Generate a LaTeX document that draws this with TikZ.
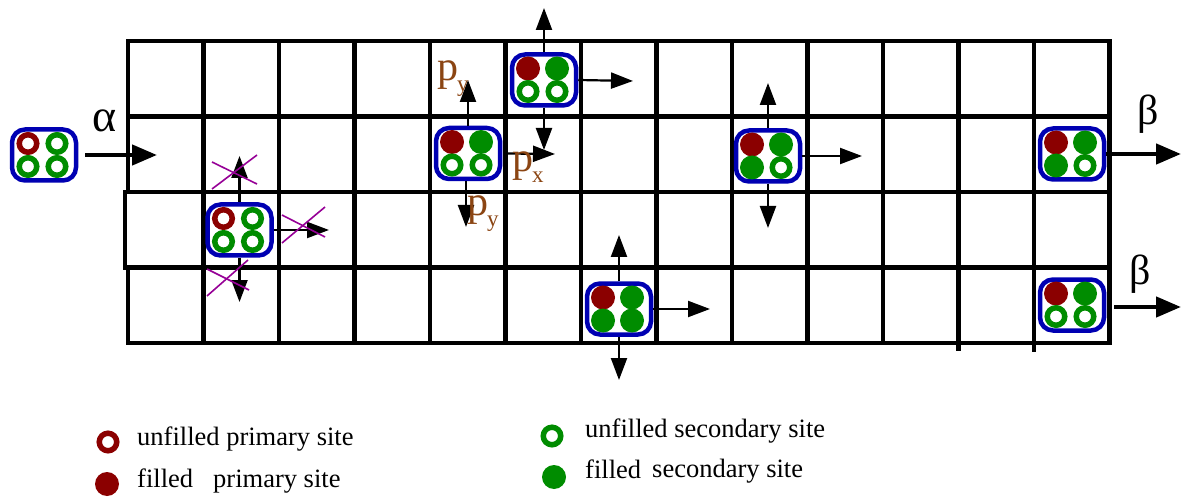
\documentclass[tikz,border=0pt]{standalone}
\usepackage{fontspec}
\setmainfont{Liberation Serif}
\usetikzlibrary{arrows.meta}
\definecolor{dred}{RGB}{139,0,0}
\definecolor{sgreen}{RGB}{0,140,0}
\definecolor{sblue}{RGB}{0,0,178}
\definecolor{pbrown}{RGB}{139,69,19}
\definecolor{xpurple}{RGB}{150,0,150}
\tikzset{
 gridline/.style={line width=4.5pt, line cap=rect},
 sitebox/.style={draw=sblue, line width=4.5pt, rounded corners=13pt, minimum width=64pt, minimum height=51pt, fill=white, inner sep=0pt},
 fr/.style={circle, fill=dred, minimum size=24pt, inner sep=0pt},
 fg/.style={circle, fill=sgreen, minimum size=24pt, inner sep=0pt},
 ur/.style={circle, draw=dred, fill=white, line width=5.5pt, minimum size=17.5pt, inner sep=0pt},
 ug/.style={circle, draw=sgreen, fill=white, line width=5.5pt, minimum size=17.5pt, inner sep=0pt},
 hop/.style={line width=2.2pt, -{Triangle[length=22pt,width=16pt]}},
 flow/.style={line width=4.5pt, -{Triangle[length=25pt,width=20pt]}},
 cross/.style={draw=xpurple, line width=1.6pt},
 plabel/.style={text=pbrown, inner sep=0pt, anchor=base west},
 greek/.style={inner sep=0pt, font=\fontsize{46}{46}\selectfont},
 legend/.style={anchor=base west, inner sep=0pt, font=\fontsize{26.5}{30}\selectfont},
}
\newcommand\cellbox[6]{%
 \node[sitebox] (#1) at (#2) {};
 \node[#3, xshift=-16pt, yshift=11.5pt] (#1-tl) at (#1) {};
 \node[#4, xshift=13pt, yshift=11.5pt] (#1-tr) at (#1) {};
 \node[#5, xshift=-16pt, yshift=-11.5pt] (#1-bl) at (#1) {};
 \node[#6, xshift=13pt, yshift=-11.5pt] (#1-br) at (#1) {};
}
\newcommand\plab[1]{{\fontsize{42}{42}\selectfont p}\kern-1pt\raisebox{-11pt}{\fontsize{23}{23}\selectfont #1}}
\begin{document}
\begin{tikzpicture}[x=1pt, y=-1pt]
\useasboundingbox (0,0) rectangle (1181,497);
% grid
\foreach \i in {1,...,13} \draw[gridline] ({128+75.5*\i},41) -- ({128+75.5*\i},343);
\draw[gridline] (128,41) -- (128,192);
\draw[gridline] (125,192) -- (125,267.5);
\draw[gridline] (128,267.5) -- (128,343);
\foreach \j in {0,1,4} \draw[gridline] (128,{41+75.5*\j}) -- (1110,{41+75.5*\j});
\foreach \j in {2,3} \draw[gridline] (125,{41+75.5*\j}) -- (1110,{41+75.5*\j});
\draw[gridline] (958.5,343) -- (958.5,349);
\draw[gridline] (1034,343) -- (1034,350);
% site boxes
\cellbox{b1}{44,155}{ur}{ug}{ug}{ug}
\cellbox{b2}{239.5,230}{ur}{ug}{ug}{ug}
\cellbox{b3}{468,153.5}{fr}{fg}{ug}{ug}
\cellbox{b4}{544,80}{fr}{fg}{ug}{ug}
\cellbox{b5}{619,309}{fr}{fg}{fg}{fg}
\cellbox{b6}{768,156}{fr}{fg}{fg}{ug}
\cellbox{b7}{1072,154}{fr}{fg}{fg}{ug}
\cellbox{b8}{1072,305}{fr}{fg}{ug}{ug}
% arrow end points
\coordinate (aend) at (157,155);
\coordinate (b2u) at (239.5,156);
\coordinate (b2r) at (329,230);
\coordinate (b2d) at (239.5,302);
\coordinate (b3u) at (468,80);
\coordinate (b3r) at (555,154);
\coordinate (b3d) at (466,227);
\coordinate (b4u) at (544,8);
\coordinate (b4r) at (633,81);
\coordinate (b4d) at (544,150);
\coordinate (b5u) at (619,235);
\coordinate (b5r) at (710,309);
\coordinate (b5d) at (619,380);
\coordinate (b6u) at (768,83);
\coordinate (b6r) at (862,156);
\coordinate (b6d) at (768,228);
\coordinate (b7r) at (1181,154);
\coordinate (b8r) at (1181,307);
% arrows
\draw[flow] ([xshift=7pt]b1.east) -- (aend);
\draw[hop] (b2.north) -- (b2u);
\draw[hop] (b2.east) -- (b2r);
\draw[hop] (b2.south) -- (b2d);
\draw[hop] (b3.north) -- (b3u);
\draw[hop] ([xshift=4pt]b3.east) -- (b3r);
\draw[hop] ([xshift=-2pt]b3.south) -- (b3d);
\draw[hop] (b4.north) -- (b4u);
\draw[hop] (b4.east) -- (b4r);
\draw[hop] (b4.south) -- (b4d);
\draw[hop] (b5.north) -- (b5u);
\draw[hop] (b5.east) -- (b5r);
\draw[hop] (b5.south) -- (b5d);
\draw[hop] (b6.north) -- (b6u);
\draw[hop] (b6.east) -- (b6r);
\draw[hop] (b6.south) -- (b6d);
\draw[flow] (b7.east) -- (b7r);
\draw[flow] ([xshift=8pt,yshift=-2pt]b8.east) -- (b8r);
% blocked moves
\draw[cross] (212,189) -- (257,155);
\draw[cross] (212,162) -- (257,184);
\draw[cross] (282,243) -- (325,207);
\draw[cross] (282,215) -- (325,237);
\draw[cross] (207,296) -- (248,260);
\draw[cross] (207,269) -- (249,290);
% labels
\node[greek] (alpha) at (105,121) {α};
\node[greek, font=\fontsize{42}{42}\selectfont] (beta1) at (1148,114) {β};
\node[greek, font=\fontsize{42}{42}\selectfont] (beta2) at (1140,274) {β};
\node[plabel] (py1) at (437,81) {\plab{y}};
\node[plabel] (px) at (512,172) {\plab{x}};
\node[plabel] (py2) at (467,216) {\plab{y}};
% legend
\node[ur] (lur) at (108,442) {};
\node[legend] (tur) at (137,445) {unfilled primary site};
\node[fr] (lfr) at (107,484) {};
\node[legend] (tfr1) at (137,487) {filled};
\node[legend] (tfr2) at (213,487) {primary site};
\node[ug] (lug) at (552,436) {};
\node[legend] (tug) at (585,437) {unfilled secondary site};
\node[fg] (lfg) at (554,477) {};
\node[legend] (tfg1) at (585,478) {filled};
\node[legend] (tfg2) at (652,477) {secondary site};
\end{tikzpicture}
\end{document}
